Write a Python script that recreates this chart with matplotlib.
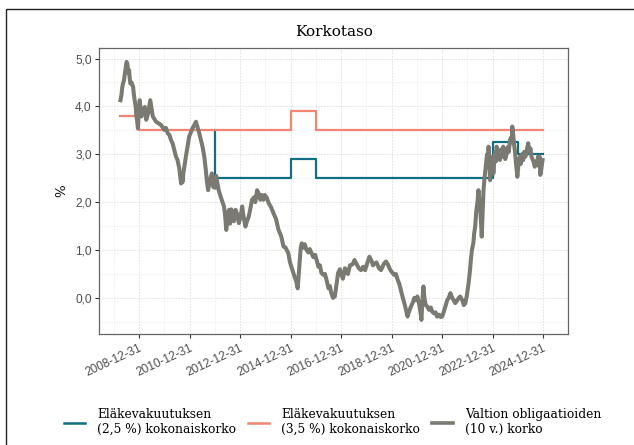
"""
Korkotaso: eläkevakuutusten kokonaiskorko vs. valtion 10 v. obligaatiokorko

Output:
    out.png
"""
import matplotlib.pyplot as plt
from matplotlib.lines import Line2D
from matplotlib.patches import Rectangle
from matplotlib.transforms import ScaledTranslation

# --- data (decimal years) ---------------------------------------------------
# eläkevakuutus 3,5 % kokonaiskorko (portaat, arvo voimassa seuraavaan pisteeseen)
salmon_year = [2008.26, 2009.0, 2015.0, 2016.0, 2024.99]
salmon_val = [3.8, 3.5, 3.9, 3.5, 3.5]

# eläkevakuutus 2,5 % kokonaiskorko
teal_year = [2011.99, 2012.0, 2015.0, 2016.0, 2023.0, 2024.0, 2024.99]
teal_val = [3.5, 2.5, 2.9, 2.5, 3.25, 3.0, 3.0]

# valtion obligaatiot (10 v.), luettu kuvasta vuosi kerrallaan
gray_year = [
    # 2008
    2008.26, 2008.30, 2008.33, 2008.36, 2008.40, 2008.45, 2008.50, 2008.53,
    2008.57, 2008.60, 2008.62, 2008.65, 2008.70, 2008.73, 2008.76, 2008.79,
    2008.82, 2008.86, 2008.89, 2008.92, 2008.95, 2008.98,
    # 2009
    2009.02, 2009.09, 2009.15, 2009.22, 2009.28, 2009.35, 2009.44, 2009.54,
    2009.67, 2009.87,
    # 2010
    2010.00, 2010.06, 2010.13, 2010.20, 2010.26, 2010.33, 2010.39, 2010.46,
    2010.52, 2010.59, 2010.66, 2010.70, 2010.72, 2010.75, 2010.85, 2010.98,
    # 2011
    2011.11, 2011.25, 2011.38, 2011.51, 2011.58, 2011.64, 2011.68, 2011.73,
    2011.78, 2011.84, 2011.88, 2011.93,
    # 2012
    2012.00, 2012.05, 2012.10, 2012.15, 2012.23, 2012.30, 2012.36, 2012.40,
    2012.45, 2012.50, 2012.56, 2012.60, 2012.65, 2012.69, 2012.75, 2012.82,
    2012.88, 2012.95,
    # 2013
    2013.02, 2013.08, 2013.12, 2013.21, 2013.27, 2013.34, 2013.40, 2013.47,
    2013.55, 2013.60, 2013.67, 2013.72, 2013.80, 2013.85, 2013.92, 2013.97,
    # 2014
    2014.05, 2014.13, 2014.22, 2014.32, 2014.42, 2014.52, 2014.62, 2014.72,
    2014.80, 2014.91, 2014.97,
    # 2015
    2015.07, 2015.15, 2015.22, 2015.28, 2015.36, 2015.40, 2015.44, 2015.50,
    2015.56, 2015.63, 2015.70, 2015.76, 2015.83, 2015.90, 2015.97,
    # 2016
    2016.03, 2016.10, 2016.16, 2016.22, 2016.30, 2016.36, 2016.42, 2016.50,
    2016.55, 2016.61, 2016.68, 2016.75, 2016.82, 2016.88, 2016.95,
    # 2017
    2017.00, 2017.07, 2017.15, 2017.20, 2017.27, 2017.35, 2017.45, 2017.53,
    2017.60, 2017.70, 2017.79, 2017.87, 2017.95,
    # 2018
    2018.05, 2018.12, 2018.20, 2018.26, 2018.32, 2018.40, 2018.50, 2018.58,
    2018.65, 2018.70, 2018.78, 2018.85, 2018.95,
    # 2019
    2019.04, 2019.10, 2019.17, 2019.24, 2019.30, 2019.37, 2019.43, 2019.50,
    2019.57, 2019.63, 2019.68, 2019.75, 2019.83, 2019.90, 2019.96,
    # 2020
    2020.02, 2020.08, 2020.13, 2020.18, 2020.22, 2020.26, 2020.30, 2020.35,
    2020.41, 2020.48, 2020.55, 2020.61, 2020.68, 2020.74, 2020.80, 2020.88,
    2020.94,
    # 2021
    2021.00, 2021.06, 2021.13, 2021.20, 2021.26, 2021.33, 2021.40, 2021.46,
    2021.52, 2021.60, 2021.66, 2021.72, 2021.80, 2021.86, 2021.92, 2021.98,
    # 2022
    2022.05, 2022.10, 2022.14, 2022.18, 2022.24, 2022.27, 2022.31, 2022.35,
    2022.40, 2022.44, 2022.47, 2022.51, 2022.54, 2022.57, 2022.60, 2022.64,
    2022.68, 2022.74, 2022.78, 2022.81, 2022.84, 2022.87, 2022.90, 2022.93,
    2022.97,
    # 2023
    2023.00, 2023.03, 2023.07, 2023.10, 2023.13, 2023.16, 2023.20, 2023.24,
    2023.29, 2023.33, 2023.37, 2023.42, 2023.46, 2023.50, 2023.56, 2023.60,
    2023.64, 2023.69, 2023.73, 2023.76, 2023.78, 2023.82, 2023.85, 2023.88,
    2023.92, 2023.95, 2023.98,
    # 2024
    2024.02, 2024.05, 2024.08, 2024.12, 2024.16, 2024.21, 2024.25, 2024.30,
    2024.36, 2024.41, 2024.46, 2024.50, 2024.54, 2024.58, 2024.62, 2024.67,
    2024.72, 2024.76, 2024.80, 2024.84, 2024.86, 2024.89, 2024.93, 2024.98,
]
gray_val = [
    # 2008
    4.13, 4.25, 4.40, 4.48, 4.55, 4.75, 4.93, 4.90,
    4.70, 4.76, 4.62, 4.48, 4.50, 4.45, 4.41, 4.25,
    4.13, 4.00, 3.79, 3.70, 3.54, 3.85,
    # 2009
    4.13, 3.79, 3.88, 3.99, 3.72, 3.85, 4.13, 3.79,
    3.68, 3.61,
    # 2010
    3.51, 3.55, 3.44, 3.40, 3.30, 3.22, 3.09, 2.95,
    2.88, 2.70, 2.39, 2.55, 2.42, 2.60, 2.95, 3.37,
    # 2011
    3.54, 3.68, 3.44, 3.16, 2.95, 2.67, 2.45, 2.25,
    2.40, 2.53, 2.60, 2.32,
    # 2012
    2.30, 2.55, 2.39, 2.25, 2.11, 2.00, 1.91, 1.75,
    1.42, 1.70, 1.84, 1.55, 1.85, 1.70, 1.60, 1.84,
    1.75, 1.56,
    # 2013
    1.70, 1.91, 1.75, 1.49, 1.60, 1.70, 1.85, 2.05,
    2.10, 2.00, 2.25, 2.20, 2.05, 2.15, 2.05, 2.15,
    # 2014
    2.10, 1.98, 1.90, 1.77, 1.65, 1.42, 1.30, 1.07,
    1.05, 0.93, 0.75,
    # 2015
    0.58, 0.45, 0.35, 0.20, 0.75, 1.05, 1.14, 1.05,
    1.12, 1.00, 0.95, 1.02, 0.93, 0.85, 0.90,
    # 2016
    0.79, 0.65, 0.68, 0.52, 0.48, 0.50, 0.38, 0.20,
    0.25, 0.10, 0.00, 0.03, 0.30, 0.52, 0.60,
    # 2017
    0.50, 0.40, 0.62, 0.55, 0.50, 0.68, 0.70, 0.79,
    0.72, 0.62, 0.58, 0.65, 0.58,
    # 2018
    0.75, 0.86, 0.78, 0.68, 0.72, 0.74, 0.62, 0.58,
    0.66, 0.72, 0.76, 0.70, 0.58,
    # 2019
    0.52, 0.48, 0.50, 0.38, 0.30, 0.15, 0.03, -0.10,
    -0.25, -0.39, -0.30, -0.20, -0.11, 0.00, -0.05,
    # 2020
    0.03, -0.10, -0.25, -0.46, -0.05, 0.24, 0.00, -0.15,
    -0.18, -0.25, -0.20, -0.29, -0.32, -0.30, -0.39, -0.35,
    -0.40,
    # 2021
    -0.39, -0.30, -0.18, -0.05, 0.00, 0.10, 0.00, -0.05,
    -0.11, -0.05, 0.00, 0.03, -0.05, -0.15, -0.11, 0.05,
    # 2022
    0.31, 0.55, 0.80, 1.00, 1.15, 1.35, 1.49, 1.80,
    2.00, 2.25, 2.05, 1.84, 1.60, 1.28, 1.70, 2.25,
    2.50, 2.81, 3.00, 2.75, 3.16, 2.85, 2.46, 2.70,
    2.88,
    # 2023
    2.95, 2.60, 2.90, 3.05, 2.85, 3.16, 3.00, 2.95,
    2.88, 3.10, 2.95, 3.16, 3.05, 2.90, 3.02, 3.15,
    3.05, 3.30, 3.35, 3.25, 3.58, 3.40, 3.20, 3.09,
    2.85, 2.70, 2.53,
    # 2024
    2.75, 2.85, 2.95, 2.80, 3.00, 2.88, 3.05, 2.95,
    3.10, 3.23, 3.05, 3.12, 2.95, 2.90, 2.85, 2.74,
    2.85, 2.80, 2.95, 2.75, 2.95, 2.57, 2.70, 2.88,
]

xtick_labels = [f"{y}-12-31" for y in range(2008, 2026, 2)]
xtick_pos = [y + 0.997 for y in range(2008, 2026, 2)]
ytick_pos = [0, 1, 2, 3, 4, 5]
ytick_labels = [f"{v},0" for v in ytick_pos]

labels = [
    "Eläkevakuutuksen\n(2,5 %) kokonaiskorko",
    "Eläkevakuutuksen\n(3,5 %) kokonaiskorko",
    "Valtion obligaatioiden\n(10 v.) korko",
]

# --- style ------------------------------------------------------------------
COL_TEAL = "#0f6f83"
COL_SALMON = "#f3846f"
COL_GRAY = "#7a7a72"
COL_GRID = "#dedede"
SERIF = "DejaVu Serif"
SANS = "Liberation Sans"


def main() -> None:
    fig = plt.figure(figsize=(6.34, 4.45), dpi=100)
    ax = fig.add_axes([0.1566, 0.2488, 0.7397, 0.6433])

    # outer frame (cropped on the right and bottom)
    fig.patches.append(Rectangle((0.009, -0.2), 1.5, 1.1798,
                                 transform=fig.transFigure, fill=False,
                                 edgecolor="#222222", linewidth=1.0))

    gray = sorted(zip(gray_year, gray_val))

    ax.step(teal_year, teal_val, where="post", color=COL_TEAL,
            linewidth=1.6, zorder=3)
    ax.step(salmon_year, salmon_val, where="post", color=COL_SALMON,
            linewidth=1.6, zorder=3)
    ax.plot([g[0] for g in gray], [g[1] for g in gray], color=COL_GRAY,
            linewidth=2.9, solid_joinstyle="round", zorder=4)

    ax.set_xlim(2007.42, 2025.84)
    ax.set_ylim(-0.76, 5.22)

    ax.set_xticks(xtick_pos)
    ax.set_xticklabels(xtick_labels, rotation=25, ha="right",
                       rotation_mode="anchor", family=SANS, fontsize=8.6,
                       color="#4d4d4d")
    shift = ScaledTranslation(0.04, 0, fig.dpi_scale_trans)
    for lbl in ax.get_xticklabels():
        lbl.set_transform(lbl.get_transform() + shift)
    ax.set_xticks([y + 0.997 for y in range(2007, 2026, 2)], minor=True)
    ax.set_yticks(ytick_pos)
    ax.set_yticklabels(ytick_labels, family=SANS, fontsize=8.6,
                       color="#4d4d4d")
    ax.set_yticks([v + 0.5 for v in range(-1, 5)], minor=True)

    ax.tick_params(which="major", length=3, width=0.8, color="#333333",
                   pad=2.5)
    ax.tick_params(which="minor", length=0)

    ax.grid(which="major", color=COL_GRID, linewidth=0.6,
            linestyle=(0, (2, 1.5)))
    ax.grid(which="minor", color="#ebebeb", linewidth=0.5,
            linestyle=(0, (2, 1.5)))
    ax.set_axisbelow(True)

    for sp in ax.spines.values():
        sp.set_color("#666666")
        sp.set_linewidth(0.9)

    ax.set_ylabel("%", family=SERIF, fontsize=9.5, labelpad=5)
    ax.set_title("Korkotaso", family=SERIF, fontsize=11, pad=9)

    # legend: one entry per block, laid out along the bottom
    colors = [COL_TEAL, COL_SALMON, COL_GRAY]
    widths = [1.8, 1.8, 2.6]
    x_left = [0.101, 0.391, 0.681]
    for lab, col, lw, x0 in zip(labels, colors, widths, x_left):
        h = Line2D([], [], color=col, linewidth=lw)
        fig.legend([h], [lab], loc="center left",
                   bbox_to_anchor=(x0, 0.052), frameon=False,
                   prop={"family": SERIF, "size": 8.8},
                   handlelength=1.75, handletextpad=0.95,
                   borderaxespad=0, borderpad=0)

    fig.savefig("out.png", dpi=100)
    plt.close(fig)


if __name__ == "__main__":
    main()
